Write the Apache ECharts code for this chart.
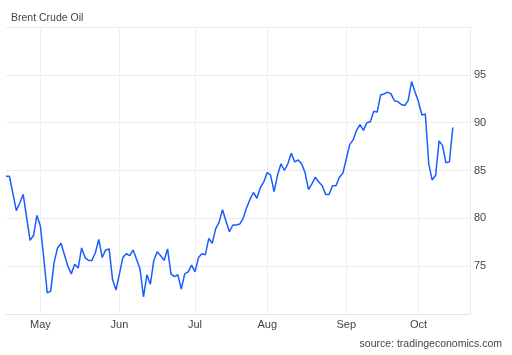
<!DOCTYPE html>
<html>
<head>
<meta charset="utf-8">
<script src="https://cdn.jsdelivr.net/npm/echarts@6/dist/echarts.min.js"></script>
<style>
html,body{margin:0;padding:0;background:#fff;}
#c{width:512px;height:355px;}
</style>
</head>
<body>
<div id="c"></div>
<script>
const title = 'Brent Crude Oil';
const source = 'source: tradingeconomics.com';

const dates = [
 '2023-04-17','2023-04-18','2023-04-19','2023-04-20','2023-04-21','2023-04-24','2023-04-25','2023-04-26','2023-04-27','2023-04-28',
 '2023-05-01','2023-05-02','2023-05-03','2023-05-04','2023-05-05','2023-05-08','2023-05-09','2023-05-10','2023-05-11','2023-05-12',
 '2023-05-15','2023-05-16','2023-05-17','2023-05-18','2023-05-19','2023-05-22','2023-05-23','2023-05-24','2023-05-25','2023-05-26',
 '2023-05-29','2023-05-30','2023-05-31',
 '2023-06-01','2023-06-02','2023-06-05','2023-06-06','2023-06-07','2023-06-08','2023-06-09','2023-06-12','2023-06-13','2023-06-14',
 '2023-06-15','2023-06-16','2023-06-19','2023-06-20','2023-06-21','2023-06-22','2023-06-23','2023-06-26','2023-06-27','2023-06-28',
 '2023-06-29','2023-06-30',
 '2023-07-03','2023-07-04','2023-07-05','2023-07-06','2023-07-07','2023-07-10','2023-07-11','2023-07-12','2023-07-13','2023-07-14',
 '2023-07-17','2023-07-18','2023-07-19','2023-07-20','2023-07-21','2023-07-24','2023-07-25','2023-07-26','2023-07-27','2023-07-28',
 '2023-07-31',
 '2023-08-01','2023-08-02','2023-08-03','2023-08-04','2023-08-07','2023-08-08','2023-08-09','2023-08-10','2023-08-11','2023-08-14',
 '2023-08-15','2023-08-16','2023-08-17','2023-08-18','2023-08-21','2023-08-22','2023-08-23','2023-08-24','2023-08-25','2023-08-28',
 '2023-08-29','2023-08-30','2023-08-31',
 '2023-09-01','2023-09-04','2023-09-05','2023-09-06','2023-09-07','2023-09-08','2023-09-11','2023-09-12','2023-09-13','2023-09-14',
 '2023-09-15','2023-09-18','2023-09-19','2023-09-20','2023-09-21','2023-09-22','2023-09-25','2023-09-26','2023-09-27','2023-09-28',
 '2023-09-29',
 '2023-10-02','2023-10-03','2023-10-04','2023-10-05','2023-10-06','2023-10-09','2023-10-10','2023-10-11','2023-10-12','2023-10-13',
 '2023-10-16',
 '2023-10-17','2023-10-18','2023-10-19','2023-10-20','2023-10-23'
];

const prices = [
 84.4,84.4,82.6,80.8,81.6,82.5,80.1,77.7,78.2,80.3,
 79.2,75.8,72.2,72.4,75.4,76.9,77.4,76.2,75.0,74.2,
 75.2,74.8,76.9,75.9,75.6,75.6,76.4,77.8,75.9,76.7,
 76.8,73.6,72.5,
 74.2,75.9,76.3,76.1,76.7,75.7,74.7,71.8,74.1,73.1,
 75.6,76.5,76.1,75.6,76.8,74.2,73.9,74.1,72.6,74.2,
 74.4,75.1,
 74.4,75.9,76.3,76.2,77.9,77.4,78.9,79.6,80.9,79.7,
 78.6,79.3,79.3,79.4,80.0,81.1,82.0,82.7,82.1,83.2,
 83.8,
 84.8,84.5,82.8,84.5,85.7,85.0,85.7,86.8,85.9,86.1,
 85.7,84.8,83.0,83.6,84.3,83.8,83.4,82.5,82.5,83.4,
 83.4,84.3,84.7,
 86.2,87.7,88.2,89.2,89.8,89.2,90.0,90.1,91.2,91.1,
 92.9,93.0,93.2,93.0,92.3,92.2,91.9,91.8,92.3,94.3,
 93.2,
 92.2,90.8,90.9,85.7,84.0,84.5,88.1,87.6,85.8,85.9,
 89.5,
 null,null,null,null,null
];

const monthNames = ['Jan','Feb','Mar','Apr','May','Jun','Jul','Aug','Sep','Oct','Nov','Dec'];
const yTicks = {min: 70, max: 100, interval: 5};

function isMonthStart(idx) {
  if (idx === 0) return false;
  return dates[idx].slice(5, 7) !== dates[idx - 1].slice(5, 7);
}

const chart = echarts.init(document.getElementById('c'), null, {renderer: 'canvas'});
const font = 'Arial, "Liberation Sans", Helvetica, sans-serif';
chart.setOption({
  animation: false,
  backgroundColor: '#ffffff',
  title: {
    text: title, left: 6, top: 8,
    textStyle: {fontSize: 10.5, fontWeight: 'normal', color: '#444', fontFamily: font}
  },
  graphic: [{
    type: 'text', right: 10, top: 339,
    style: {text: source, fontSize: 10.5, fill: '#444', font: '10.5px ' + font}
  }],
  grid: {left: 6, right: 42, top: 27, bottom: 41, containLabel: false},
  xAxis: {
    type: 'category',
    data: dates,
    boundaryGap: false,
    axisLine: {show: true, lineStyle: {color: '#e6e6e6', width: 1}},
    axisTick: {show: false},
    axisLabel: {
      interval: (i) => isMonthStart(i),
      formatter: (v) => monthNames[parseInt(v.slice(5, 7), 10) - 1],
      color: '#444', fontSize: 11, fontFamily: font, margin: 5
    },
    splitLine: {
      show: true,
      interval: (i) => isMonthStart(i),
      lineStyle: {color: '#f0f0f0', width: 1}
    }
  },
  yAxis: {
    type: 'value',
    position: 'right',
    min: yTicks.min, max: yTicks.max, interval: yTicks.interval,
    axisLine: {show: true, lineStyle: {color: '#ececec'}},
    axisTick: {show: false},
    axisLabel: {
      showMinLabel: false, showMaxLabel: false,
      color: '#444', fontSize: 11, fontFamily: font, margin: 4
    },
    splitLine: {show: true, lineStyle: {color: '#ebebeb', width: 1}}
  },
  series: [{
    type: 'line',
    data: prices,
    showSymbol: false,
    symbol: 'none',
    connectNulls: false,
    lineStyle: {color: '#1a5cff', width: 1.5},
    itemStyle: {color: '#1a5cff'}
  }]
});
</script>
</body>
</html>
